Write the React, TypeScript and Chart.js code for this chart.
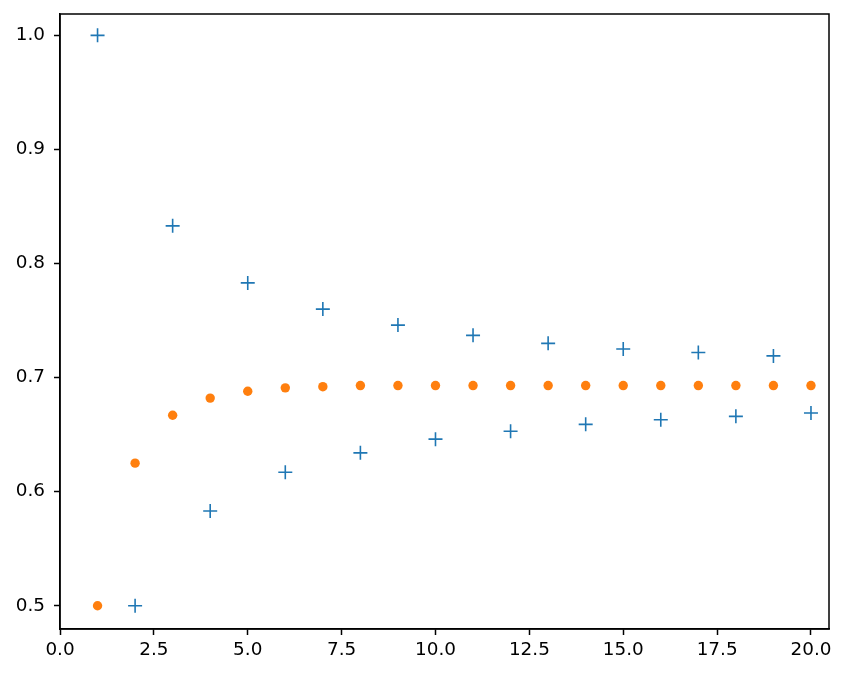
import React, { useEffect, useRef } from "react";
import Chart from "chart.js/auto";

// term index n = 1..20
const steps = [1, 2, 3, 4, 5, 6, 7, 8, 9, 10, 11, 12, 13, 14, 15, 16, 17, 18, 19, 20];

// blue "+" series (alternating partial sums)
const crossValues = [
  1.0, 0.5, 0.833, 0.583, 0.783, 0.617, 0.76, 0.634, 0.746, 0.646,
  0.737, 0.653, 0.73, 0.659, 0.725, 0.663, 0.722, 0.666, 0.719, 0.669,
];

// orange dot series
const dotValues = [
  0.5, 0.625, 0.667, 0.682, 0.688, 0.691, 0.692, 0.693, 0.693, 0.693,
  0.693, 0.693, 0.693, 0.693, 0.693, 0.693, 0.693, 0.693, 0.693, 0.693,
];

const xTicks = [0, 2.5, 5, 7.5, 10, 12.5, 15, 17.5, 20];
const yTicks = [0.5, 0.6, 0.7, 0.8, 0.9, 1.0];

const W = 847;
const H = 676;

// draws the full box round the plot area, like matplotlib's spines
const framePlugin = {
  id: "frame",
  afterDraw(chart: Chart) {
    const { ctx, chartArea } = chart;
    ctx.save();
    ctx.strokeStyle = "#000";
    ctx.lineWidth = 1.5;
    ctx.strokeRect(
      chartArea.left,
      chartArea.top,
      chartArea.right - chartArea.left,
      chartArea.bottom - chartArea.top
    );
    ctx.restore();
  },
};

export default function App() {
  const canvasRef = useRef<HTMLCanvasElement>(null);

  useEffect(() => {
    document.body.style.margin = "0";
    if (!canvasRef.current) return;

    const tickFont = { family: "DejaVu Sans", size: 18.4 };

    const chart = new Chart(canvasRef.current, {
      type: "scatter",
      data: {
        datasets: [
          {
            label: "partial sums",
            data: steps.map((n, i) => ({ x: n, y: crossValues[i] })),
            pointStyle: "cross",
            pointRadius: 7,
            pointBorderWidth: 1.6,
            borderColor: "#1f77b4",
            backgroundColor: "#1f77b4",
          },
          {
            label: "series",
            data: steps.map((n, i) => ({ x: n, y: dotValues[i] })),
            pointStyle: "circle",
            pointRadius: 4.7,
            pointBorderWidth: 0,
            borderColor: "#ff7f0e",
            backgroundColor: "#ff7f0e",
          },
        ],
      },
      options: {
        responsive: false,
        animation: false,
        devicePixelRatio: 1,
        layout: {
          padding: { left: 0, right: 18, top: 14, bottom: 0 },
        },
        plugins: {
          legend: { display: false },
          tooltip: { enabled: false },
        },
        scales: {
          x: {
            type: "linear",
            min: 0,
            max: 20.48,
            afterBuildTicks: (axis) => {
              axis.ticks = xTicks.map((v) => ({ value: v }));
            },
            afterFit: (axis: any) => {
              axis.height = 47;
              axis.paddingLeft = 0;
              axis.paddingRight = 0;
            },
            grid: {
              drawOnChartArea: false,
              drawTicks: true,
              tickLength: 6,
              tickWidth: 1.5,
              tickColor: "#000",
            },
            border: { color: "#000", width: 1.5 },
            ticks: {
              color: "#000",
              font: tickFont,
              padding: 4,
              maxRotation: 0,
              autoSkip: false,
              callback: (v) => Number(v).toFixed(1),
            },
          },
          y: {
            type: "linear",
            min: 0.4796,
            max: 1.0187,
            afterBuildTicks: (axis) => {
              axis.ticks = yTicks.map((v) => ({ value: v }));
            },
            afterFit: (axis: any) => {
              axis.width = 60;
              axis.paddingTop = 0;
              axis.paddingBottom = 0;
            },
            grid: {
              drawOnChartArea: false,
              drawTicks: true,
              tickLength: 6,
              tickWidth: 1.5,
              tickColor: "#000",
            },
            border: { color: "#000", width: 1.5 },
            ticks: {
              color: "#000",
              font: tickFont,
              padding: 9,
              autoSkip: false,
              callback: (v) => Number(v).toFixed(1),
            },
          },
        },
      },
      plugins: [framePlugin],
    });

    return () => chart.destroy();
  }, []);

  return (
    <div style={{ width: W, height: H, background: "#fff" }}>
      <canvas ref={canvasRef} width={W} height={H} />
    </div>
  );
}
